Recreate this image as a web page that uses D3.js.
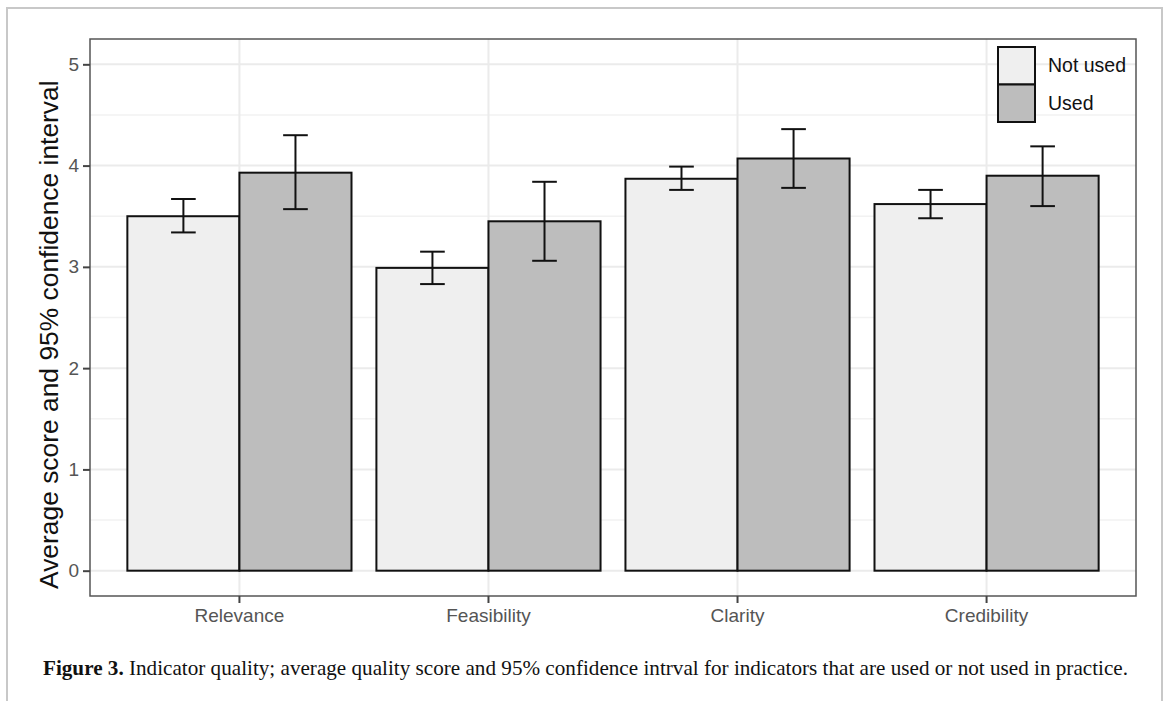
<!DOCTYPE html>
<html>
<head>
<meta charset="utf-8">
<script src="https://cdn.jsdelivr.net/npm/d3@7"></script>
<style>
  body { margin: 0; background: #fff; }
  svg text { font-family: "Liberation Sans", Arial, sans-serif; }
</style>
</head>
<body>
<div id="chart"></div>
<script>
// indicator quality - average score and 95% CI, used vs not used
var categories = ["Relevance", "Feasibility", "Clarity", "Credibility"];
var groups = ["Not used", "Used"];

var notUsedMean = [3.50, 2.99, 3.87, 3.62];
var notUsedLow  = [3.34, 2.83, 3.76, 3.48];
var notUsedHigh = [3.67, 3.15, 3.99, 3.76];

var usedMean = [3.93, 3.45, 4.07, 3.90];
var usedLow  = [3.57, 3.06, 3.78, 3.60];
var usedHigh = [4.30, 3.84, 4.36, 4.19];

var yTicks = [0, 1, 2, 3, 4, 5];
var yMinor = [0.5, 1.5, 2.5, 3.5, 4.5];

var yTitle = "Average score and 95% confidence interval";
var captionBold = "Figure 3.";
var captionText = " Indicator quality; average quality score and 95% confidence intrval for indicators that are used or not used in practice.";

var chart_width = 1167;
var chart_height = 701;

// panel box
var panelLeft = 90, panelRight = 1136, panelTop = 39, panelBottom = 596;

var fills = { "Not used": "#efefef", "Used": "#bdbdbd" };

var rows = [];
categories.forEach(function (c, i) {
    rows.push({ cat: c, grp: "Not used", mean: notUsedMean[i], low: notUsedLow[i], high: notUsedHigh[i] });
    rows.push({ cat: c, grp: "Used", mean: usedMean[i], low: usedLow[i], high: usedHigh[i] });
});

var svg = d3.select('#chart')
    .append('svg')
    .attr('width', chart_width)
    .attr('height', chart_height);

// outer figure frame (left, top, right only)
svg.append('path')
    .attr('d', 'M7,701 V8 H1162 V701')
    .attr('fill', 'none')
    .attr('stroke', '#c8c8c8')
    .attr('stroke-width', 2);

var x = d3.scaleBand()
    .domain(categories)
    .range([panelLeft, panelRight])
    .paddingInner(0.1)
    .paddingOuter(0.15);

var xInner = d3.scaleBand()
    .domain(groups)
    .range([0, x.bandwidth()]);

var y = d3.scaleLinear()
    .domain([-0.25, 5.25])
    .range([panelBottom, panelTop]);

// grid
var grid = svg.append('g');
grid.selectAll('.minor')
    .data(yMinor)
    .enter()
    .append('line')
    .attr('x1', panelLeft).attr('x2', panelRight)
    .attr('y1', function (d) { return y(d); })
    .attr('y2', function (d) { return y(d); })
    .attr('stroke', '#f2f2f2')
    .attr('stroke-width', 1.5);
grid.selectAll('.major')
    .data(yTicks)
    .enter()
    .append('line')
    .attr('x1', panelLeft).attr('x2', panelRight)
    .attr('y1', function (d) { return y(d); })
    .attr('y2', function (d) { return y(d); })
    .attr('stroke', '#ebebeb')
    .attr('stroke-width', 2);
grid.selectAll('.vmajor')
    .data(categories)
    .enter()
    .append('line')
    .attr('y1', panelTop).attr('y2', panelBottom)
    .attr('x1', function (d) { return x(d) + x.bandwidth() / 2; })
    .attr('x2', function (d) { return x(d) + x.bandwidth() / 2; })
    .attr('stroke', '#ebebeb')
    .attr('stroke-width', 2);

// bars
svg.selectAll('rect.bar')
    .data(rows)
    .enter()
    .append('rect')
    .attr('class', 'bar')
    .attr('x', function (d) { return x(d.cat) + xInner(d.grp); })
    .attr('width', xInner.bandwidth())
    .attr('y', function (d) { return y(d.mean); })
    .attr('height', function (d) { return y(0) - y(d.mean); })
    .attr('fill', function (d) { return fills[d.grp]; })
    .attr('stroke', '#111')
    .attr('stroke-width', 2);

// error bars
var capW = xInner.bandwidth() * 0.22;
var eb = svg.selectAll('g.err')
    .data(rows)
    .enter()
    .append('g')
    .attr('class', 'err')
    .attr('transform', function (d) {
        return 'translate(' + (x(d.cat) + xInner(d.grp) + xInner.bandwidth() / 2) + ',0)';
    })
    .attr('stroke', '#111')
    .attr('stroke-width', 2);
eb.append('line')
    .attr('x1', 0).attr('x2', 0)
    .attr('y1', function (d) { return y(d.low); })
    .attr('y2', function (d) { return y(d.high); });
eb.append('line')
    .attr('x1', -capW / 2).attr('x2', capW / 2)
    .attr('y1', function (d) { return y(d.low); })
    .attr('y2', function (d) { return y(d.low); });
eb.append('line')
    .attr('x1', -capW / 2).attr('x2', capW / 2)
    .attr('y1', function (d) { return y(d.high); })
    .attr('y2', function (d) { return y(d.high); });

// panel border
svg.append('rect')
    .attr('x', panelLeft).attr('y', panelTop)
    .attr('width', panelRight - panelLeft).attr('height', panelBottom - panelTop)
    .attr('fill', 'none')
    .attr('stroke', '#555')
    .attr('stroke-width', 1.5);

// axes
var yAxis = svg.append('g')
    .attr('transform', 'translate(' + panelLeft + ',0)')
    .call(d3.axisLeft(y).tickValues(yTicks).tickSize(7).tickPadding(4).tickFormat(d3.format('d')));
var xAxis = svg.append('g')
    .attr('transform', 'translate(0,' + panelBottom + ')')
    .call(d3.axisBottom(x).tickSize(7).tickPadding(6));
[yAxis, xAxis].forEach(function (a) {
    a.select('.domain').remove();
    a.selectAll('.tick line').attr('stroke', '#444').attr('stroke-width', 2);
    a.selectAll('.tick text')
        .attr('fill', '#555')
        .style('font-family', '"Liberation Sans", Arial, sans-serif')
        .attr('font-size', 19);
});

// y title
svg.append('text')
    .attr('transform', 'translate(58,589) rotate(-90)')
    .attr('text-anchor', 'start')
    .attr('font-size', 26.4)
    .attr('fill', '#111')
    .text(yTitle);

// legend
var legend = svg.append('g').attr('transform', 'translate(998,47)');
var lg = legend.selectAll('g')
    .data(groups)
    .enter()
    .append('g')
    .attr('transform', function (d, i) { return 'translate(0,' + (i * 37.5) + ')'; });
lg.append('rect')
    .attr('width', 37).attr('height', 37.5)
    .attr('fill', function (d) { return fills[d]; })
    .attr('stroke', '#111')
    .attr('stroke-width', 2);
lg.append('text')
    .attr('x', 50).attr('y', 25)
    .attr('font-size', 19.5)
    .attr('fill', '#111')
    .text(function (d) { return d; });

// caption
var cap = svg.append('text')
    .attr('x', 43).attr('y', 675)
    .attr('font-size', 21)
    .attr('fill', '#111')
    .attr('textLength', 1085)
    .attr('lengthAdjust', 'spacingAndGlyphs')
    .style('font-family', '"Liberation Serif", "Times New Roman", serif');
cap.append('tspan').attr('font-weight', 'bold').text(captionBold);
cap.append('tspan').text(captionText);
</script>
</body>
</html>
